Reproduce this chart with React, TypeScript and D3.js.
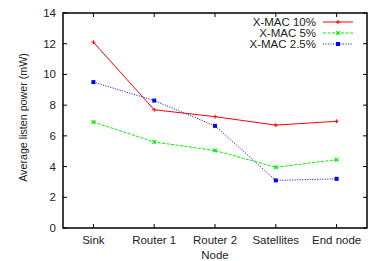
import React, { useEffect, useRef } from 'react'
import * as d3 from 'd3'

const nodes = ['Sink', 'Router 1', 'Router 2', 'Satellites', 'End node']
const mac10 = [12.1, 7.7, 7.25, 6.7, 6.95]
const mac5 = [6.9, 5.6, 5.05, 3.95, 4.45]
const mac25 = [9.5, 8.3, 6.65, 3.1, 3.2]
const yTicks = [0, 2, 4, 6, 8, 10, 12, 14]

const series = [
  { name: 'X-MAC 10%', values: mac10, color: '#ff0000', dash: '', marker: 'plus' },
  { name: 'X-MAC 5%', values: mac5, color: '#00ee00', dash: '3,1.5', marker: 'cross' },
  { name: 'X-MAC 2.5%', values: mac25, color: '#0000ff', dash: '1,1.5', marker: 'square' },
]

const App = () => {
  const svgRef = useRef<SVGSVGElement>(null)

  useEffect(() => {
    const width = 372
    const height = 261
    const margin = { top: 13, right: 5, bottom: 33, left: 63 }
    const font = 'Liberation Sans, Arial, sans-serif'
    const fs = '11.5px'

    const svg = d3.select(svgRef.current).attr('width', width).attr('height', height)
    svg.selectAll('*').remove()

    const x = d3
      .scalePoint()
      .domain(nodes)
      .range([margin.left, width - margin.right])
      .padding(0.5)
    const y = d3
      .scaleLinear()
      .domain([0, 14])
      .range([height - margin.bottom, margin.top])

    const x0 = margin.left
    const x1 = width - margin.right
    const y0 = height - margin.bottom
    const y1 = margin.top
    const tick = 4

    // ticks (inward on all four sides)
    const g = svg.append('g').attr('stroke', '#000').attr('stroke-width', 1)
    yTicks.forEach((t) => {
      g.append('line').attr('x1', x0).attr('x2', x0 + tick).attr('y1', y(t)).attr('y2', y(t))
      g.append('line').attr('x1', x1).attr('x2', x1 - tick).attr('y1', y(t)).attr('y2', y(t))
    })
    nodes.forEach((n) => {
      g.append('line').attr('x1', x(n)).attr('x2', x(n)).attr('y1', y0).attr('y2', y0 - tick)
      g.append('line').attr('x1', x(n)).attr('x2', x(n)).attr('y1', y1).attr('y2', y1 + tick)
    })

    // tick labels
    svg
      .append('g')
      .selectAll('text')
      .data(yTicks)
      .enter()
      .append('text')
      .attr('x', x0 - 7)
      .attr('y', (d) => y(d) + 4)
      .attr('text-anchor', 'end')
      .style('font-family', font)
      .style('font-size', fs)
      .attr('fill', '#222')
      .text((d) => d)

    svg
      .append('g')
      .selectAll('text')
      .data(nodes)
      .enter()
      .append('text')
      .attr('x', (d) => x(d) as number)
      .attr('y', y0 + 15.5)
      .attr('text-anchor', 'middle')
      .style('font-family', font)
      .style('font-size', fs)
      .attr('fill', '#222')
      .text((d) => d)

    // axis titles
    svg
      .append('text')
      .attr('x', (x0 + x1) / 2)
      .attr('y', height - 2)
      .attr('text-anchor', 'middle')
      .style('font-family', font)
      .style('font-size', fs)
      .attr('fill', '#222')
      .text('Node')

    svg
      .append('text')
      .attr('transform', `translate(27, 117.5) rotate(-90)`)
      .attr('text-anchor', 'middle')
      .style('font-family', font)
      .style('font-size', '10.7px')
      .attr('fill', '#222')
      .text('Average listen power (mW)')

    const drawMarker = (sel: any, kind: string, cx: number, cy: number, color: string) => {
      if (kind === 'plus') {
        sel.append('path').attr('d', `M${cx - 2},${cy}H${cx + 2}M${cx},${cy - 2}V${cy + 2}`)
          .attr('stroke', color).attr('stroke-width', 1)
      } else if (kind === 'cross') {
        sel.append('path')
          .attr('d', `M${cx - 1.8},${cy - 1.8}L${cx + 1.8},${cy + 1.8}M${cx - 1.8},${cy + 1.8}L${cx + 1.8},${cy - 1.8}`)
          .attr('stroke', color).attr('stroke-width', 1.2)
      } else {
        sel.append('rect').attr('x', cx - 2).attr('y', cy - 2).attr('width', 4).attr('height', 4)
          .attr('fill', color)
      }
    }

    const line = d3
      .line<number>()
      .x((d, i) => x(nodes[i]) as number)
      .y((d) => y(d))

    series.forEach((s) => {
      const sg = svg.append('g')
      sg.append('path')
        .datum(s.values)
        .attr('d', line)
        .attr('fill', 'none')
        .attr('stroke', s.color)
        .attr('stroke-width', 1)
        .attr('stroke-dasharray', s.dash)
      s.values.forEach((v, i) => drawMarker(sg, s.marker, x(nodes[i]) as number, y(v), s.color))
    })

    // legend
    series.forEach((s, i) => {
      const ly = 22 + i * 11
      const lg = svg.append('g')
      lg.append('text')
        .attr('x', 316)
        .attr('y', ly + 4)
        .attr('text-anchor', 'end')
        .style('font-family', font)
        .style('font-size', fs)
        .attr('fill', '#222')
        .text(s.name)
      lg.append('line')
        .attr('x1', 323).attr('x2', 353).attr('y1', ly).attr('y2', ly)
        .attr('stroke', s.color).attr('stroke-width', 1).attr('stroke-dasharray', s.dash)
      drawMarker(lg, s.marker, 338, ly, s.color)
    })

    // frame
    svg
      .append('rect')
      .attr('x', x0)
      .attr('y', y1)
      .attr('width', x1 - x0)
      .attr('height', y0 - y1)
      .attr('fill', 'none')
      .attr('stroke', '#000')
      .attr('stroke-width', 1.5)
  }, [])

  return (
    <svg ref={svgRef} style={{ position: 'absolute', left: 0, top: 0 }}></svg>
  )
}

export default App
